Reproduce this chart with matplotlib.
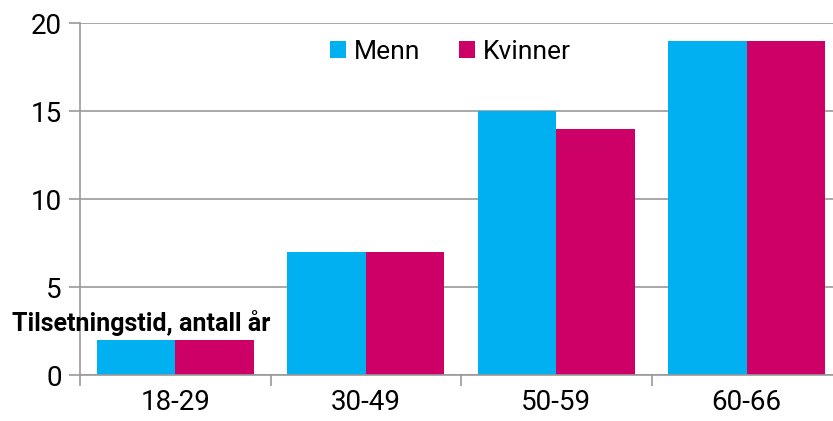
import numpy as np
import matplotlib.pyplot as plt

plt.rcParams['font.family'] = ['Roboto', 'DejaVu Sans']

groups = ["18-29", "30-49", "50-59", "60-66"]
menn = [2, 7, 15, 19]
kvinner = [2, 7, 14, 19]

blue = "#00B0F0"
magenta = "#CC0066"
grid = "#9a9a9a"

fig = plt.figure(figsize=(8.33, 4.21), dpi=100)
ax = fig.add_axes([80/833, 1-375/421, 762/833, 352/421])

x = np.arange(len(groups))
w = 0.412
ax.bar(x - w/2, menn, w, color=blue, label="Menn")
ax.bar(x + w/2, kvinner, w, color=magenta, label="Kvinner")

ax.set_xlim(-0.5, len(groups) - 0.5)
ax.set_ylim(0, 20)
ax.set_yticks([0, 5, 10, 15, 20])
ax.yaxis.grid(True, color=grid, linewidth=1.2)
ax.set_axisbelow(True)

# category separators as tick marks under the axis
ax.set_xticks(x)
ax.set_xticklabels(groups)
ax.set_xticks(np.arange(len(groups) + 1) - 0.5, minor=True)
ax.tick_params(axis='x', which='major', length=0, pad=10, labelsize=20)
ax.tick_params(axis='x', which='minor', length=8, width=1.2, color=grid, direction='out')
ax.tick_params(axis='y', length=8, width=1.2, color=grid, pad=5, labelsize=20)

for s in ["top", "right"]:
    ax.spines[s].set_visible(False)
for s in ["left", "bottom"]:
    ax.spines[s].set_color(grid)
    ax.spines[s].set_linewidth(1.2)

ax.legend(loc="upper left", bbox_to_anchor=(306/833, 1-16/421), bbox_transform=fig.transFigure,
          ncol=2, frameon=False, fontsize=19, handlelength=0.6, handleheight=0.6,
          handletextpad=0.3, columnspacing=1.5)

fig.text(12/833, 1-323/421, "Tilsetningstid, antall år", fontsize=18, fontweight="bold",
         ha="left", va="center")

fig.savefig("out.png", dpi=100)
